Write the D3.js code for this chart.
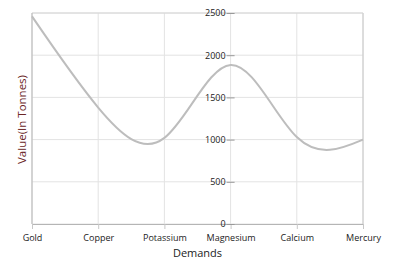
<!DOCTYPE html>
<html><head><meta charset="utf-8">
<script src="https://cdn.jsdelivr.net/npm/d3@7"></script>
<style>body{margin:0;background:#fff}svg{display:block}text{font-family:"Open Sans",sans-serif}</style>
</head><body><svg id="c" width="396" height="263"></svg>
<script>
const categories = ["Gold","Copper","Potassium","Magnesium","Calcium","Mercury"];
const values = [2460, 1380, 1020, 1885, 1030, 1000];
const yTicks = [0, 500, 1000, 1500, 2000, 2500];

const svg = d3.select("#c");
const m = {l:32, r:363, t:13, b:224};
const x = d3.scalePoint().domain(categories).range([m.l, m.r]);
const y = d3.scaleLinear().domain([0, 2500]).range([m.b, m.t]);

// gridlines
svg.append("g").selectAll("line").data(yTicks).join("line")
  .attr("x1", m.l).attr("x2", m.r).attr("y1", d=>y(d)).attr("y2", d=>y(d))
  .attr("stroke", "#e3e3e3").attr("stroke-width", 1);
svg.append("g").selectAll("line").data(categories).join("line")
  .attr("x1", d=>x(d)).attr("x2", d=>x(d)).attr("y1", m.t).attr("y2", m.b)
  .attr("stroke", "#e3e3e3").attr("stroke-width", 1);
// border
svg.append("line").attr("x1", m.r).attr("x2", m.r).attr("y1", m.t).attr("y2", m.b).attr("stroke", "#c8c8c8");
svg.append("line").attr("x1", m.l).attr("x2", m.r).attr("y1", m.t).attr("y2", m.t).attr("stroke", "#d6d6d6");
svg.append("line").attr("x1", m.l).attr("x2", m.l).attr("y1", m.t).attr("y2", m.b).attr("stroke", "#b5b5b5");

// x axis
const xAxis = d3.axisBottom(x).tickSize(5).tickPadding(6);
const gx = svg.append("g").attr("transform", `translate(0,${m.b})`).call(xAxis);
gx.select(".domain").attr("stroke", "#b5b5b5");
gx.selectAll(".tick line").attr("stroke", "#c8c8c8");
gx.selectAll(".tick text").attr("fill", "#222").style("font-size", "9px").style("font-family", "'Open Sans',sans-serif");

// y axis at Magnesium
const yAxis = d3.axisLeft(y).tickValues(yTicks).tickFormat(d3.format("d")).tickSize(4).tickPadding(1);
const gy = svg.append("g").attr("transform", `translate(${x("Magnesium")},0)`).call(yAxis);
gy.select(".domain").remove();
gy.selectAll(".tick line").attr("x1", 4).attr("x2", -4).attr("stroke", "#999");
gy.selectAll(".tick text").attr("fill", "#222").style("font-size", "9px").style("font-family", "'Open Sans',sans-serif");

// line
const line = d3.line().x((d,i)=>x(categories[i])).y(d=>y(d)).curve(d3.curveNatural);
svg.append("path").datum(values).attr("d", line).attr("fill", "none")
  .attr("stroke", "#bdbdbd").attr("stroke-width", 2);

// titles
svg.append("text").attr("x", (m.l+m.r)/2).attr("y", 257).attr("text-anchor", "middle")
  .attr("fill", "#222").style("font-size", "11px").text("Demands");
svg.append("text").attr("transform", `translate(26,${(m.t+m.b)/2+1}) rotate(-90)`).attr("text-anchor", "middle")
  .attr("fill", "#6b2626").style("font-size", "11.5px").text("Value(In Tonnes)");
</script></body></html>
